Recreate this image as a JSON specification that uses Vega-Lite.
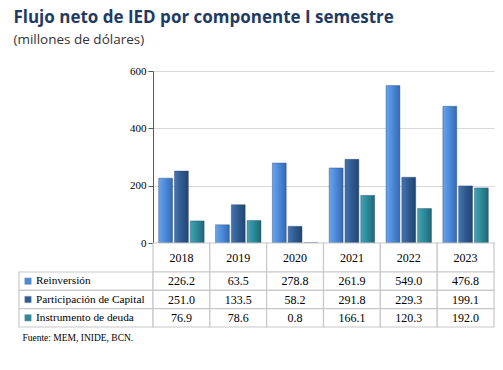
{
  "$schema": "https://vega.github.io/schema/vega-lite/v6.json",
  "background": "white",
  "padding": {"left": 13, "top": 8, "right": 8, "bottom": 5},
  "title": {
    "text": "Flujo neto de IED por componente I semestre",
    "subtitle": "(millones de dólares)",
    "anchor": "start",
    "dx": -5,
    "font": "Open Sans",
    "fontSize": 17,
    "fontWeight": "bold",
    "color": "#1F3B64",
    "subtitleFont": "Open Sans",
    "subtitleFontSize": 13.5,
    "subtitleColor": "#333333",
    "subtitlePadding": 6,
    "offset": 18
  },
  "datasets": {
    "d": [
      {"year": "2018", "series": "Reinversión", "value": 226.2},
      {"year": "2019", "series": "Reinversión", "value": 63.5},
      {"year": "2020", "series": "Reinversión", "value": 278.8},
      {"year": "2021", "series": "Reinversión", "value": 261.9},
      {"year": "2022", "series": "Reinversión", "value": 549.0},
      {"year": "2023", "series": "Reinversión", "value": 476.8},
      {"year": "2018", "series": "Participación de Capital", "value": 251.0},
      {"year": "2019", "series": "Participación de Capital", "value": 133.5},
      {"year": "2020", "series": "Participación de Capital", "value": 58.2},
      {"year": "2021", "series": "Participación de Capital", "value": 291.8},
      {"year": "2022", "series": "Participación de Capital", "value": 229.3},
      {"year": "2023", "series": "Participación de Capital", "value": 199.1},
      {"year": "2018", "series": "Instrumento de deuda", "value": 76.9},
      {"year": "2019", "series": "Instrumento de deuda", "value": 78.6},
      {"year": "2020", "series": "Instrumento de deuda", "value": 0.8},
      {"year": "2021", "series": "Instrumento de deuda", "value": 166.1},
      {"year": "2022", "series": "Instrumento de deuda", "value": 120.3},
      {"year": "2023", "series": "Instrumento de deuda", "value": 192.0}
    ]
  },
  "columns": 2,
  "spacing": 0,
  "bounds": "flush",
  "concat": [
    {
      "width": 134,
      "height": 172,
      "data": {"values": []},
      "mark": "point",
      "view": {"stroke": null}
    },
    {
      "width": 341,
      "height": 172,
      "data": {"name": "d"},
      "mark": {"type": "bar", "stroke": "#24456f", "strokeWidth": 0.4},
      "encoding": {
        "x": {
          "field": "year",
          "type": "nominal",
          "scale": {"paddingInner": 0.2, "paddingOuter": 0.1},
          "axis": {"labels": false, "ticks": false, "title": null, "domainColor": "#bfbfbf", "domainWidth": 1}
        },
        "xOffset": {
          "field": "series",
          "type": "nominal",
          "sort": ["Reinversión", "Participación de Capital", "Instrumento de deuda"],
          "scale": {"paddingInner": 0.12, "paddingOuter": 0}
        },
        "y": {
          "field": "value",
          "type": "quantitative",
          "scale": {"domain": [0, 600], "nice": false},
          "axis": {
            "values": [0, 200, 400, 600],
            "title": null,
            "grid": true,
            "gridColor": "#d9d9d9",
            "domainColor": "#595959",
            "tickColor": "#595959",
            "tickSize": 5,
            "labelFont": "Liberation Serif",
            "labelFontSize": 11,
            "labelColor": "#000000",
            "labelPadding": 2
          }
        },
        "fill": {
          "condition": [
            {
              "test": "datum.series === 'Reinversión'",
              "value": {"gradient": "linear", "x1": 0, "y1": 0, "x2": 1, "y2": 0, "stops": [{"offset": 0, "color": "#6AA4EA"}, {"offset": 0.5, "color": "#4A88D8"}, {"offset": 1, "color": "#3569B2"}]}
            },
            {
              "test": "datum.series === 'Participación de Capital'",
              "value": {"gradient": "linear", "x1": 0, "y1": 0, "x2": 1, "y2": 0, "stops": [{"offset": 0, "color": "#4575AD"}, {"offset": 0.5, "color": "#2F5A90"}, {"offset": 1, "color": "#22456F"}]}
            }
          ],
          "value": {"gradient": "linear", "x1": 0, "y1": 0, "x2": 1, "y2": 0, "stops": [{"offset": 0, "color": "#42A4B4"}, {"offset": 0.5, "color": "#2C8898"}, {"offset": 1, "color": "#1F6774"}]}
        }
      },
      "view": {"stroke": null}
    },
    {
      "width": 134,
      "height": 29,
      "data": {"values": []},
      "mark": "point",
      "view": {"stroke": null}
    },
    {
      "width": 341,
      "height": 29,
      "data": {"name": "d"},
      "transform": [{"aggregate": [{"op": "count", "as": "n"}], "groupby": ["year"]}],
      "encoding": {
        "x": {"field": "year", "type": "nominal", "scale": {"paddingInner": 0, "paddingOuter": 0}, "axis": null}
      },
      "layer": [
        {"mark": {"type": "rect", "fill": "white", "stroke": "#c8c8c8", "strokeWidth": 1.2}},
        {"mark": {"type": "text", "font": "Liberation Serif", "fontSize": 12, "color": "#000000"}, "encoding": {"text": {"field": "year"}}}
      ],
      "view": {"stroke": null}
    },
    {
      "width": 134,
      "height": 55,
      "data": {"name": "d"},
      "transform": [{"filter": "datum.year === '2018'"}],
      "title": {
        "text": "Fuente: MEM, INIDE, BCN.",
        "orient": "bottom",
        "anchor": "start",
        "font": "Liberation Serif",
        "fontSize": 9.5,
        "fontWeight": "normal",
        "color": "#000000",
        "offset": 5,
        "dx": 4
      },
      "encoding": {
        "y": {
          "field": "series",
          "type": "nominal",
          "sort": ["Reinversión", "Participación de Capital", "Instrumento de deuda"],
          "scale": {"paddingInner": 0, "paddingOuter": 0},
          "axis": null
        }
      },
      "layer": [
        {"mark": {"type": "rect", "fill": "white", "stroke": "#c8c8c8", "strokeWidth": 1.2}},
        {
          "mark": {"type": "square", "size": 42, "opacity": 1, "stroke": "#8aa0b8", "strokeWidth": 0.5},
          "encoding": {
            "x": {"value": 9},
            "color": {
              "field": "series",
              "type": "nominal",
              "sort": ["Reinversión", "Participación de Capital", "Instrumento de deuda"],
              "scale": {"range": ["#4A88D8", "#2F5A90", "#2C8898"]},
              "legend": null
            }
          }
        },
        {
          "mark": {"type": "text", "align": "left", "font": "Liberation Serif", "fontSize": 11.3, "color": "#000000"},
          "encoding": {"x": {"value": 17}, "text": {"field": "series"}}
        }
      ],
      "view": {"stroke": null}
    },
    {
      "width": 341,
      "height": 55,
      "data": {"name": "d"},
      "encoding": {
        "x": {"field": "year", "type": "nominal", "scale": {"paddingInner": 0, "paddingOuter": 0}, "axis": null},
        "y": {
          "field": "series",
          "type": "nominal",
          "sort": ["Reinversión", "Participación de Capital", "Instrumento de deuda"],
          "scale": {"paddingInner": 0, "paddingOuter": 0},
          "axis": null
        }
      },
      "layer": [
        {"mark": {"type": "rect", "fill": "white", "stroke": "#c8c8c8", "strokeWidth": 1.2}},
        {"mark": {"type": "text", "font": "Liberation Serif", "fontSize": 12, "color": "#000000"}, "encoding": {"text": {"field": "value", "format": ".1f"}}}
      ],
      "view": {"stroke": null}
    }
  ]
}
